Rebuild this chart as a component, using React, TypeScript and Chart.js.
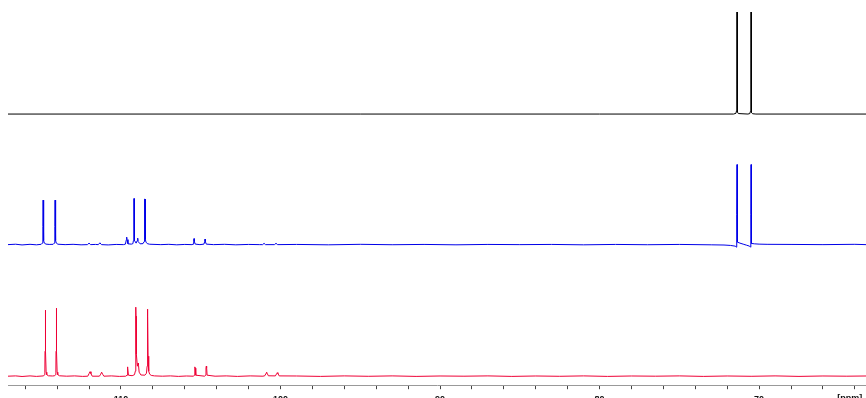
import React, { useEffect, useRef } from "react";
import { Chart, registerables } from "chart.js";

Chart.register(...registerables);

// x range (ppm, reversed axis)
const ppmLeft = 117.08;
const ppmRight = 63.3;

// tick positions and labelled ticks
const tickValues = [116, 114, 112, 110, 108, 106, 104, 102, 100, 98, 96, 94, 92, 90, 88, 86, 84, 82, 80, 78, 76, 74, 72, 70, 68, 66, 64];
const labelledTicks = [110, 100, 90, 80, 70];
const unitLabel = "[ppm]";
const unitLabelPpm = 65.1;

// vertical offsets of the stacked traces (intensity units)
const yMax = 385;
const blackOffset = 271;
const blueOffset = 140.5;
const redOffset = 9;

// top trace: [ppm, intensity]
const blackSpectrum: [number, number][] = [
  [117.1, 0], [95, 0], [80, 0], [71.6, 0], [71.45, 0.8], [71.42, 3], [71.4, 4],
  [71.39, 30], [71.385, 102], [71.375, 102], [71.37, 30], [71.36, 4], [71.34, 2], [71.3, 0.5],
  [70.7, 0], [70.58, 0.5], [70.55, 2.5], [70.52, 5], [70.51, 30], [70.505, 102],
  [70.495, 102], [70.49, 30], [70.48, 4], [70.46, 1.5], [70.4, 0.3], [70.2, 0], [63.3, 0],
];

// middle trace
const blueSpectrum: [number, number][] = [
  [117.1, 0], [116.6, 0.4], [116.2, -0.3], [115.7, 0.3], [115.3, -0.2], [115.0, 0.3],
  [114.93, 1.5], [114.9, 4], [114.89, 18], [114.88, 44.5], [114.86, 44.5], [114.85, 18], [114.83, 4], [114.8, 1.5], [114.7, 0.5],
  [114.5, 0.2], [114.25, 0.3], [114.18, 1.5], [114.15, 4], [114.14, 18], [114.13, 44.5], [114.11, 44.5], [114.1, 18],
  [114.08, 4], [114.05, 1.5], [113.95, 0.4], [113.5, 0], [113.0, 0.3], [112.5, -0.2],
  [112.1, 0], [112.0, 1.5], [111.9, 0], [111.6, 0.2], [111.42, 0], [111.32, 1.8], [111.22, 0],
  [110.8, -0.3], [110.3, 0.2], [109.85, 0],
  [109.72, 0.5], [109.66, 5], [109.64, 7.5], [109.62, 5], [109.56, 0.8], [109.35, 0.5],
  [109.25, 1], [109.22, 4], [109.2, 18], [109.19, 46], [109.17, 46], [109.16, 18], [109.14, 4], [109.05, 1.5],
  [108.98, 4], [108.95, 6.5], [108.92, 3], [108.8, 0.8], [108.62, 1],
  [108.55, 3], [108.53, 18], [108.51, 45.5], [108.49, 45.5], [108.48, 18], [108.46, 5], [108.43, 2.5], [108.35, 1], [108.2, 0.4],
  [107.5, 0], [107.0, 0.3], [106.5, -0.2], [106.0, 0.2], [105.55, 0],
  [105.48, 0.5], [105.44, 3], [105.42, 6], [105.4, 3], [105.34, 0.5], [105.05, 0],
  [104.8, 0.5], [104.75, 3], [104.73, 5.5], [104.71, 3], [104.65, 0.5],
  [104.2, 0], [103.5, 0.3], [102.8, -0.2], [102.0, 0.2], [101.3, 0],
  [101.12, 0], [101.03, 1.3], [100.94, 0], [100.38, 0], [100.28, 1.3], [100.18, 0],
  [99, 0.2], [97, -0.2], [95, 0.3], [93, -0.1], [91, 0.2], [89, -0.2], [87, 0.2], [85, 0],
  [83, 0.2], [81, -0.2], [79, 0.2], [77, -0.1], [75, 0.2], [73, -0.2], [72.2, -0.4],
  [71.8, -0.8], [71.5, -1.5], [71.42, -2.5],
  [71.41, 2], [71.395, 30], [71.385, 80], [71.375, 80], [71.37, 30], [71.36, 4], [71.33, 2.5], [71.2, 1.5],
  [71.0, 0.5], [70.8, -0.5], [70.6, -1.5], [70.54, -2.5],
  [70.525, 2], [70.515, 30], [70.505, 80], [70.495, 80], [70.49, 30], [70.48, 3], [70.45, 1.2], [70.3, 0.8],
  [70.0, 0.5], [69.5, 0.3], [68, 0.2], [66, 0], [64, 0.3], [63.3, 0],
];

// bottom trace
const redSpectrum: [number, number][] = [
  [117.1, 0], [116.6, 0.3], [116.2, -0.3], [115.7, 0.3], [115.3, -0.2], [114.85, 0.3],
  [114.79, 1.5], [114.77, 4], [114.76, 25], [114.75, 62], [114.74, 40], [114.73, 55], [114.72, 66], [114.71, 25],
  [114.69, 4], [114.65, 1.5], [114.55, 0.4], [114.3, 0.2],
  [114.16, 0.4], [114.1, 1.5], [114.08, 4], [114.07, 25], [114.06, 68], [114.05, 45], [114.04, 58], [114.03, 64],
  [114.02, 25], [114.0, 4], [113.96, 1.5], [113.85, 0.4],
  [113.4, 0], [112.9, 0.3], [112.4, -0.2], [112.08, 0],
  [112.0, 2.5], [111.94, 4.5], [111.88, 2.5], [111.8, 0], [111.35, 0],
  [111.27, 2], [111.21, 4], [111.15, 2], [111.07, 0],
  [110.6, 0.3], [110.1, -0.2], [109.7, 0],
  [109.62, 1], [109.6, 8], [109.58, 9.3], [109.56, 8], [109.53, 1], [109.3, 0.5],
  [109.15, 1.5], [109.1, 5], [109.08, 20], [109.07, 55], [109.06, 69], [109.05, 50], [109.04, 60], [109.03, 22],
  [108.97, 10], [108.93, 13], [108.9, 11], [108.86, 4], [108.75, 1.2], [108.5, 1],
  [108.4, 3], [108.36, 10], [108.35, 64], [108.34, 67], [108.33, 50], [108.32, 63], [108.31, 60], [108.3, 20],
  [108.26, 5], [108.2, 2], [108.1, 0.8], [107.9, 0.3],
  [107.4, 0], [106.9, 0.3], [106.4, -0.2], [105.9, 0.2], [105.45, 0],
  [105.4, 1], [105.38, 8], [105.36, 9.3], [105.34, 8], [105.31, 1], [104.75, 0],
  [104.69, 1], [104.67, 8.5], [104.65, 10], [104.63, 8.5], [104.6, 1],
  [104.1, 0], [103.4, 0.3], [102.7, -0.2], [101.9, 0.3], [101.1, 0],
  [100.98, 0.5], [100.9, 3], [100.87, 4], [100.84, 3], [100.76, 0.4],
  [100.32, 0.3], [100.24, 2.5], [100.2, 3.5], [100.16, 2.5], [100.08, 0.3],
  [99, 0.2], [97.5, -0.2], [96, 0.3], [94.5, -0.1], [93, 0.3], [91.5, -0.2], [90, 0.2],
  [88.5, 0], [87, 0.3], [85.5, -0.2], [84, 0.2], [82.5, -0.1], [81, 0.3], [79.5, -0.2],
  [78, 0.2], [76.5, 0], [75, 0.3], [73.5, -0.2], [72, 0.2], [70.5, -0.1], [69, 0.3],
  [67.5, -0.2], [66, 0.2], [64.5, 0], [63.3, 0.2],
];

const toPoints = (spec: [number, number][], offset: number) =>
  spec.map(([x, y]) => ({ x, y: y + offset }));

export default function App() {
  const canvasRef = useRef<HTMLCanvasElement | null>(null);

  useEffect(() => {
    const canvas = canvasRef.current;
    if (!canvas) return;
    const tickFont = { family: "'Liberation Sans', Arial, sans-serif", size: 9, weight: "bold" as const };

    const unitLabelPlugin = {
      id: "unitLabel",
      afterDraw(chart: any) {
        const xs = chart.scales.x;
        const ctx = chart.ctx;
        ctx.save();
        ctx.font = "bold 9px 'Liberation Sans', Arial, sans-serif";
        ctx.fillStyle = "#111";
        ctx.textAlign = "left";
        ctx.textBaseline = "top";
        ctx.fillText(unitLabel, xs.getPixelForValue(unitLabelPpm), xs.top + 9);
        ctx.restore();
      },
    };

    const chart = new Chart(canvas, {
      type: "line",
      data: {
        datasets: [
          { label: "top", data: toPoints(blackSpectrum, blackOffset), borderColor: "#000000", borderWidth: 1, pointRadius: 0, fill: false, tension: 0 },
          { label: "middle", data: toPoints(blueSpectrum, blueOffset), borderColor: "#0000e8", borderWidth: 1, pointRadius: 0, fill: false, tension: 0 },
          { label: "bottom", data: toPoints(redSpectrum, redOffset), borderColor: "#ee0036", borderWidth: 1, pointRadius: 0, fill: false, tension: 0 },
        ],
      },
      options: {
        responsive: false,
        animation: false,
        parsing: false as any,
        layout: { padding: { left: 8, right: 0, top: 0, bottom: 0 } },
        plugins: { legend: { display: false }, tooltip: { enabled: false } },
        scales: {
          x: {
            type: "linear",
            reverse: true,
            min: ppmRight,
            max: ppmLeft,
            afterBuildTicks: (scale: any) => {
              scale.ticks = tickValues.map((v) => ({ value: v }));
            },
            ticks: {
              autoSkip: false,
              maxRotation: 0,
              padding: 5,
              color: "#111",
              font: tickFont,
              callback: (v: any) => (labelledTicks.includes(Number(v)) ? String(v) : ""),
            },
            grid: { display: true, drawOnChartArea: false, drawTicks: true, tickLength: 4, color: "#444" },
            border: { display: true, color: "#999", width: 1 },
          },
          y: { type: "linear", display: false, min: 0, max: yMax },
        },
      },
      plugins: [unitLabelPlugin],
    });
    return () => chart.destroy();
  }, []);

  return (
    <div style={{ position: "fixed", left: 0, top: 0, width: 866, height: 398, overflow: "hidden", background: "#fff" }}>
      <canvas ref={canvasRef} width={866} height={410} style={{ display: "block" }} />
    </div>
  );
}
